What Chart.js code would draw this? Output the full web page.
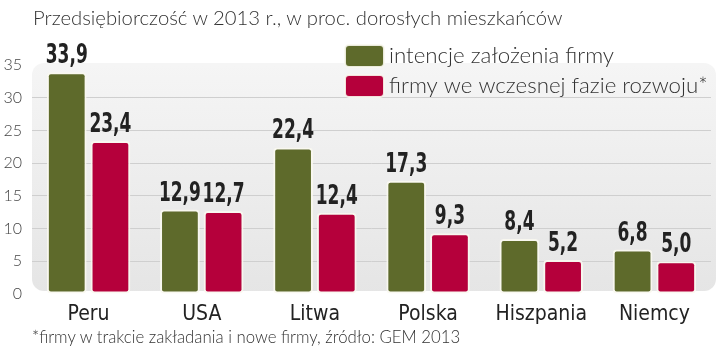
<!DOCTYPE html>
<html>
<head>
<meta charset="utf-8">
<script src="https://cdn.jsdelivr.net/npm/chart.js@4.4.1/dist/chart.umd.min.js"></script>
<style>
  html, body { margin: 0; padding: 0; background: #fff; }
  #wrap { position: relative; width: 720px; height: 353px; overflow: hidden; }
  #wrap canvas { position: absolute; left: 0; top: 0; }
  #title { position: absolute; left: 33px; top: 5px; font: 300 20.3px Lato, sans-serif; color: #333; white-space: nowrap; }
  #note { position: absolute; left: 32px; top: 326px; font: 300 16.8px Lato, sans-serif; color: #333; white-space: nowrap; }
</style>
</head>
<body>
<div id="wrap">
  <canvas id="chart" width="720" height="353"></canvas>
  <div id="title">Przedsiębiorczość w 2013 r., w proc. dorosłych mieszkańców</div>
  <div id="note">*firmy w trakcie zakładania i nowe firmy, źródło: GEM 2013</div>
</div>
<script>
// dane z wykresu
const countries = ['Peru', 'USA', 'Litwa', 'Polska', 'Hiszpania', 'Niemcy'];
const intencje = [33.9, 12.9, 22.4, 17.3, 8.4, 6.8];
const wczesnaFaza = [23.4, 12.7, 12.4, 9.3, 5.2, 5.0];
const yTicks = [0, 5, 10, 15, 20, 25, 30, 35];
const seriesNames = ['intencje założenia firmy', 'firmy we wczesnej fazie rozwoju*'];
const seriesColors = ['#5e6a2b', '#b5003b'];

const barBorder = 'rgba(250,248,240,0.9)';

// szare tło pod wykresem
const plotBackground = {
    id: 'plotBackground',
    beforeDraw(chart) {
        const { ctx, chartArea: a } = chart;
        const g = ctx.createLinearGradient(0, a.top, 0, a.bottom);
        g.addColorStop(0, '#f5f5f5');
        g.addColorStop(1, '#e5e5e5');
        ctx.save();
        ctx.fillStyle = g;
        ctx.beginPath();
        ctx.roundRect(a.left, a.top - 2, a.right - a.left + 5, a.bottom - a.top - 1, 12);
        ctx.fill();
        ctx.restore();
    }
};

// wartości nad słupkami (wąska, pogrubiona czcionka - ściśnięta w poziomie)
const valueLabels = {
    id: 'valueLabels',
    afterDatasetsDraw(chart) {
        const { ctx } = chart;
        const sx = 0.7;
        ctx.save();
        ctx.font = 'bold 27px "DejaVu Sans Condensed", "DejaVu Sans", sans-serif';
        ctx.fillStyle = '#222';
        ctx.textAlign = 'center';
        ctx.textBaseline = 'alphabetic';
        chart.data.datasets.forEach((ds, i) => {
            chart.getDatasetMeta(i).data.forEach((bar, j) => {
                const txt = ds.data[j].toFixed(1).replace('.', ',');
                ctx.save();
                ctx.translate(bar.x, bar.y - 9);
                ctx.scale(sx, 1);
                ctx.fillText(txt, 0, 0);
                ctx.restore();
            });
        });
        ctx.restore();
    }
};

// legenda w prawym górnym rogu
const boxLegend = {
    id: 'boxLegend',
    afterDraw(chart) {
        const { ctx } = chart;
        ctx.save();
        chart.data.datasets.forEach((ds, i) => {
            const y = 45 + i * 30;
            ctx.beginPath();
            ctx.roundRect(345, y, 39, 22, 4);
            ctx.fillStyle = ds.backgroundColor;
            ctx.fill();
            ctx.lineWidth = 2;
            ctx.strokeStyle = barBorder;
            ctx.stroke();
            ctx.font = '300 22.3px Lato, sans-serif';
            ctx.fillStyle = '#333';
            ctx.textBaseline = 'middle';
            ctx.fillText(ds.label, 389, y + 11);
        });
        ctx.restore();
    }
};

new Chart(document.getElementById('chart'), {
    type: 'bar',
    data: {
        labels: countries,
        datasets: [
            { label: seriesNames[0], data: intencje, backgroundColor: seriesColors[0] },
            { label: seriesNames[1], data: wczesnaFaza, backgroundColor: seriesColors[1] }
        ]
    },
    options: {
        responsive: false,
        animation: false,
        categoryPercentage: 0.772,
        barPercentage: 0.91,
        datasets: {
            bar: {
                borderColor: barBorder,
                borderWidth: 2,
                borderRadius: 4,
                borderSkipped: false
            }
        },
        layout: { padding: { top: 65, right: 9, left: 0, bottom: 0 } },
        plugins: {
            legend: { display: false },
            tooltip: { enabled: false }
        },
        scales: {
            x: {
                grid: { display: false, drawTicks: false },
                border: { display: false },
                ticks: {
                    padding: 8,
                    color: '#222',
                    font: { family: '"DejaVu Sans Condensed", sans-serif', size: 21 }
                },
                afterFit(scale) { scale.height = 59; }
            },
            y: {
                min: 0,
                max: 35,
                afterBuildTicks(scale) { scale.ticks = yTicks.map(v => ({ value: v })); },
                grid: {
                    drawTicks: false,
                    color: c => (c.tick.value === 0 || c.tick.value === 35) ? 'transparent' : '#cfcfcf',
                    lineWidth: 1
                },
                border: { display: false },
                ticks: {
                    padding: 10,
                    color: '#444',
                    font: { family: 'Lato, sans-serif', size: 16, weight: 300 }
                },
                afterFit(scale) { scale.width = 32; }
            }
        }
    },
    plugins: [plotBackground, valueLabels, boxLegend]
});
</script>
</body>
</html>
